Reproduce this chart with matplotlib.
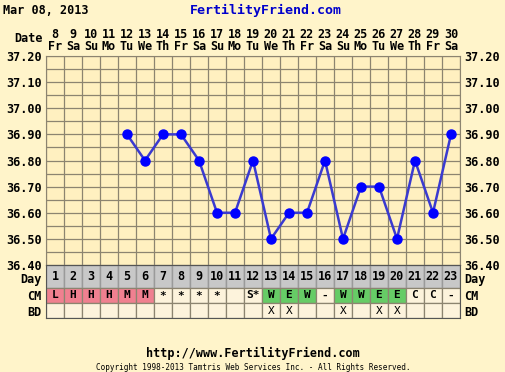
import numpy as np
import matplotlib
matplotlib.use("Agg")
import matplotlib.pyplot as plt

# --- data ---
dates = [8, 9, 10, 11, 12, 13, 14, 15, 16, 17, 18, 19, 20, 21, 22, 23, 24, 25, 26, 27, 28, 29, 30]
weekdays = ["Fr", "Sa", "Su", "Mo", "Tu", "We", "Th", "Fr", "Sa", "Su", "Mo", "Tu",
            "We", "Th", "Fr", "Sa", "Su", "Mo", "Tu", "We", "Th", "Fr", "Sa"]
cycle_days = list(range(1, 24))
temps = [None, None, None, None, 36.90, 36.80, 36.90, 36.90, 36.80, 36.60, 36.60, 36.80,
         36.50, 36.60, 36.60, 36.80, 36.50, 36.70, 36.70, 36.50, 36.80, 36.60, 36.90]
cm_marks = ["L", "H", "H", "H", "M", "M", "*", "*", "*", "*", "", "S*",
            "W", "E", "W", "-", "W", "W", "E", "E", "C", "C", "-"]
bd_marks = ["", "", "", "", "", "", "", "", "", "", "", "",
            "X", "X", "", "", "X", "", "X", "X", "", "", ""]
temp_ticks = [36.40, 36.50, 36.60, 36.70, 36.80, 36.90, 37.00, 37.10, 37.20]

W, H = 506, 372
BG = "#fff4ca"
PLOT_BG = "#fff0c0"
GRID = "#8c8470"
FONT = "DejaVu Sans Mono"
cm_colors = {"L": "#f08090", "H": "#f08090", "M": "#f08090", "W": "#66cc66", "E": "#66cc66"}

fig = plt.figure(figsize=(W / 100, H / 100), dpi=100, facecolor=BG)


def fx(px):
    return px / W


def fy(py):
    return 1 - py / H


# temperature plot
ax = fig.add_axes([fx(46), fy(265), fx(460) - fx(46), fy(56) - fy(265)])
ax.set_facecolor(PLOT_BG)
ax.set_xlim(0.5, 23.5)
ax.set_ylim(36.40, 37.20)
for x in np.arange(0.5, 24, 1.0):
    ax.axvline(x, color=GRID, lw=0.9, zorder=1)
for y in np.arange(36.40, 37.21, 0.05):
    ax.axhline(y, color=GRID, lw=0.9, zorder=1)
days = np.array(cycle_days, dtype=float)
vals = np.array([np.nan if t is None else t for t in temps])
ax.plot(days, vals, color="#3a3ad0", lw=1.8, zorder=3)
ax.plot(days, vals, "o", color="#0000ff", ms=6.5, zorder=4)
ax.set_xticks([])
ax.set_yticks(temp_ticks)
ax.set_yticklabels([f"{t:.2f}" for t in temp_ticks], fontfamily=FONT, fontweight="bold", fontsize=8.5)
ax.tick_params(axis="y", length=0, pad=3, labelright=True, right=False)
for s in ax.spines.values():
    s.set_color(GRID)

# Date header
for d, wd, day in zip(dates, weekdays, cycle_days):
    xp = ax.transData.transform((day, 37.2))[0] / W
    fig.text(xp, fy(34), str(d), ha="center", va="center", fontfamily=FONT,
             fontweight="bold", fontsize=8.5)
    fig.text(xp, fy(46), wd, ha="center", va="center", fontfamily=FONT,
             fontweight="bold", fontsize=8.5)
fig.text(fx(43), fy(39), "Date", ha="right", va="center", fontfamily=FONT,
         fontweight="bold", fontsize=8.5)

# Day / CM / BD table
tab = fig.add_axes([fx(46), fy(318), fx(460) - fx(46), fy(265) - fy(318)])
tab.set_xlim(0.5, 23.5)
tab.set_ylim(53, 0)
tab.set_facecolor("#fdf3dc")
tab.bar(days, 23, bottom=0, width=1.0, color="#c8c8c8", edgecolor="#9a9a9a", lw=1)
cm_fill = [cm_colors.get(m, "#fdf3dc") for m in cm_marks]
tab.bar(days, 15, bottom=23, width=1.0, color=cm_fill, edgecolor=GRID, lw=0.9)
tab.bar(days, 15, bottom=38, width=1.0, color="#fdf3dc", edgecolor=GRID, lw=0.9)
for day, m, b in zip(cycle_days, cm_marks, bd_marks):
    tab.text(day, 12, str(day), ha="center", va="center", fontfamily=FONT,
             fontweight="bold", fontsize=8.5)
    tab.text(day, 30.5, m, ha="center", va="center", fontfamily=FONT,
             fontweight="bold", fontsize=8)
    tab.text(day, 45.5, b, ha="center", va="center", fontfamily=FONT, fontsize=8)
tab.set_xticks([])
tab.set_yticks([13, 30.5, 45.5])
tab.set_yticklabels(["Day", "CM", "BD"], fontfamily=FONT, fontweight="bold", fontsize=8.5)
tab.tick_params(axis="y", length=0, pad=3, labelright=True, right=False)
for s in tab.spines.values():
    s.set_color("#555555")

# titles and footer
fig.text(fx(3), fy(10), "Mar 08, 2013", ha="left", va="center", fontfamily=FONT,
         fontweight="bold", fontsize=8.5)
fig.text(fx(266), fy(10), "FertilityFriend.com", ha="center", va="center", fontfamily=FONT,
         fontweight="bold", fontsize=9.5, color="#0000cc")
fig.text(fx(253), fy(353), "http://www.FertilityFriend.com", ha="center", va="center",
         fontfamily=FONT, fontweight="bold", fontsize=8.5)
fig.text(fx(253), fy(367), "Copyright 1998-2013 Tamtris Web Services Inc. - All Rights Reserved.",
         ha="center", va="center", fontfamily=FONT, fontsize=5.5)

fig.savefig("out.png", dpi=100, facecolor=BG)
